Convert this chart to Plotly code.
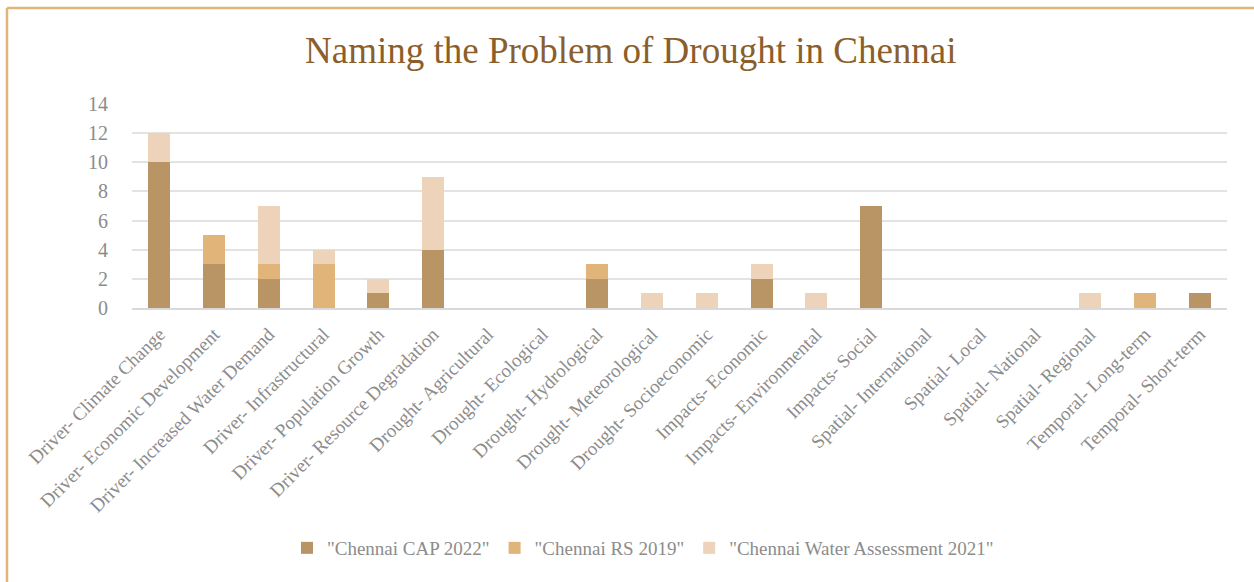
import plotly.graph_objects as go

categories = [
    "Driver- Climate Change", "Driver- Economic Development", "Driver- Increased Water Demand",
    "Driver- Infrastructural", "Driver- Population Growth", "Driver- Resource Degradation",
    "Drought- Agricultural", "Drought- Ecological", "Drought- Hydrological",
    "Drought- Meteorological", "Drought- Socioeconomic", "Impacts- Economic",
    "Impacts- Environmental", "Impacts- Social", "Spatial- International",
    "Spatial- Local", "Spatial- National", "Spatial- Regional",
    "Temporal- Long-term", "Temporal- Short-term",
]
cap_2022 = [10, 3, 2, 0, 1, 4, 0, 0, 2, 0, 0, 2, 0, 7, 0, 0, 0, 0, 0, 1]
rs_2019 = [0, 2, 1, 3, 0, 0, 0, 0, 1, 0, 0, 0, 0, 0, 0, 0, 0, 0, 1, 0]
water_2021 = [2, 0, 4, 1, 1, 5, 0, 0, 0, 1, 1, 1, 1, 0, 0, 0, 0, 1, 0, 0]
y_ticks = [0, 2, 4, 6, 8, 10, 12, 14]

series = [
    ('"Chennai CAP 2022"', cap_2022, "#B99465"),
    ('"Chennai RS 2019"', rs_2019, "#E1B47A"),
    ('"Chennai Water Assessment 2021"', water_2021, "#ECD3B9"),
]

FONT = "Liberation Serif"
GRAY = "#8C8C8C"

fig = go.Figure()
for name, vals, color in series:
    fig.add_trace(go.Bar(
        x=categories, y=vals, name=name,
        marker=dict(color=color, line=dict(width=0)),
    ))

W, H = 1254, 582
ml, mr, mt, mb = 132, 27, 104, 274
pw, ph = W - ml - mr, H - mt - mb


def px_x(p):
    return (p - ml) / pw


def px_y(p):
    return (H - mb - p) / ph


border = "#E1B47A"
shapes = [
    dict(type="line", xref="paper", yref="paper",
         x0=px_x(7), x1=px_x(W + 5), y0=px_y(8), y1=px_y(8),
         line=dict(color=border, width=2.5)),
    dict(type="line", xref="paper", yref="paper",
         x0=px_x(7), x1=px_x(7), y0=px_y(8), y1=px_y(H + 5),
         line=dict(color=border, width=2.5)),
]

fig.update_layout(
    width=W, height=H,
    margin=dict(l=ml, r=mr, t=mt, b=mb),
    barmode="stack", bargap=0.6,
    paper_bgcolor="white", plot_bgcolor="white",
    font=dict(family=FONT, color=GRAY),
    title=dict(
        text="Naming the Problem of Drought in Chennai",
        x=0.503, xanchor="center", y=1 - 50 / H, yanchor="middle",
        font=dict(family=FONT, size=37, color="#8B5E2B"),
    ),
    xaxis=dict(
        tickangle=-45, tickfont=dict(size=19, color=GRAY, family=FONT),
        showgrid=False, showline=True, linecolor="#D9D9D9", linewidth=1.5,
        ticks="", fixedrange=True, ticklabelstandoff=6,
    ),
    yaxis=dict(
        range=[0, 14], tickvals=y_ticks, tickfont=dict(size=20, color=GRAY, family=FONT),
        showgrid=True, gridcolor="#E3E3E3", gridwidth=1.5,
        zeroline=False, showline=False, ticks="", ticklabelstandoff=23,
    ),
    legend=dict(
        orientation="h", x=px_x(643), xanchor="center", y=px_y(548), yanchor="middle",
        font=dict(size=19, color=GRAY, family=FONT), itemwidth=30,
        traceorder="normal",
    ),
    shapes=shapes,
    showlegend=True,
)

fig.write_html("out.html")
